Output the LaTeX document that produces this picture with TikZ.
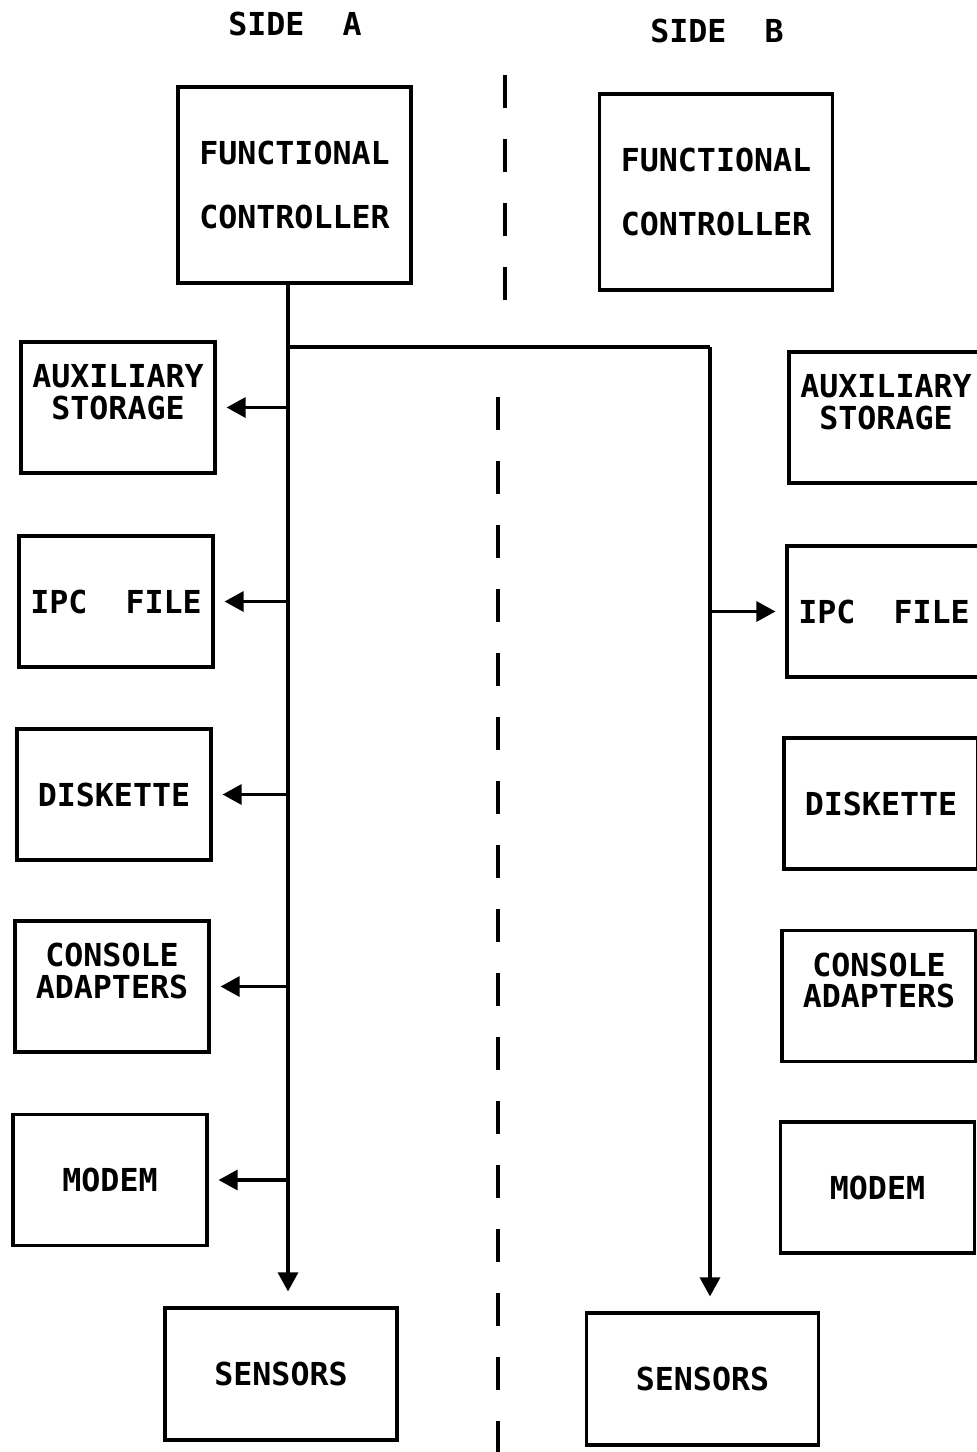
\documentclass[tikz,border=0pt]{standalone}
\usepackage{fontspec}
\setmonofont{DejaVu Sans Mono}
\usetikzlibrary{arrows.meta}

\begin{document}
\begin{tikzpicture}[
    unit/.style={draw, line width=0.9pt, inner sep=0pt, minimum width=1.94cm, minimum height=1.31cm, align=center,
        font=\ttfamily\bfseries\fontsize{9}{9}\selectfont},
    ctrl/.style={unit, minimum width=2.33cm, minimum height=1.96cm},
    sens/.style={unit, minimum width=2.32cm, minimum height=1.32cm},
    side/.style={font=\ttfamily\bfseries\fontsize{9}{9}\selectfont},
    wire/.style={line width=0.9pt},
    feed/.style={wire, -{Triangle[length=1.9mm, width=2mm]}, shorten >=0.1cm}
]
                \useasboundingbox (0,0) rectangle (9.77,-14.52);

                % Headings
                \node[side] (sideA) at (2.95,-0.24) {SIDE\ \ A};
                \node[side] (sideB) at (7.17,-0.31) {SIDE\ \ B};

                % Side A
                \node[ctrl] (fcA) at (2.945,-1.85) {FUNCTIONAL\\[9pt]CONTROLLER};
                \node[unit] (auxA) at (1.18,-4.075) {AUXILIARY\\STORAGE\\\mbox{}};
                \node[unit] (ipcA) at (1.16,-6.015) {IPC\ \ FILE};
                \node[unit] (diskA) at (1.14,-7.945) {DISKETTE};
                \node[unit] (consA) at (1.12,-9.865) {CONSOLE\\ADAPTERS\\\mbox{}};
                \node[unit] (modemA) at (1.10,-11.80) {MODEM};
                \node[sens] (sensA) at (2.81,-13.74) {SENSORS};

                % Side B
                \node[ctrl] (fcB) at (7.16,-1.92) {FUNCTIONAL\\[9pt]CONTROLLER};
                \node[unit] (auxB) at (8.86,-4.175) {AUXILIARY\\STORAGE\\\mbox{}};
                \node[unit] (ipcB) at (8.84,-6.115) {IPC\ \ FILE};
                \node[unit] (diskB) at (8.81,-8.035) {DISKETTE};
                \node[unit] (consB) at (8.79,-9.96) {CONSOLE\\ADAPTERS\\\mbox{}};
                \node[unit] (modemB) at (8.775,-11.875) {MODEM};
                \node[sens] (sensB) at (7.025,-13.79) {SENSORS};

                % Dividing line
                \draw[line width=0.9pt, dash pattern=on 0.33cm off 0.31cm] (5.05,-0.75) -- (5.05,-3.0);
                \draw[line width=0.9pt, dash pattern=on 0.33cm off 0.31cm] (4.98,-3.97) -- (4.98,-14.52);

                % Bus from side A controller
                \coordinate (splitA) at (2.88,-3.47);
                \coordinate (bendB) at (7.10,-3.47);
                \draw[wire] (fcA.south -| splitA) -- (splitA);
                \draw[feed, shorten >=0.15cm] (splitA) -- (splitA |- sensA.north);
                \draw[wire] (splitA) -- (bendB);
                \draw[feed, shorten >=0.15cm] (bendB) -- (bendB |- sensB.north);

                % Feeds
                \foreach \unitname in {auxA, ipcA, diskA, consA, modemA}
                    \draw[feed] (\unitname.east -| splitA) -- (\unitname.east);
                \draw[feed] (ipcB.west -| bendB) -- (ipcB.west);
\end{tikzpicture}
\end{document}
